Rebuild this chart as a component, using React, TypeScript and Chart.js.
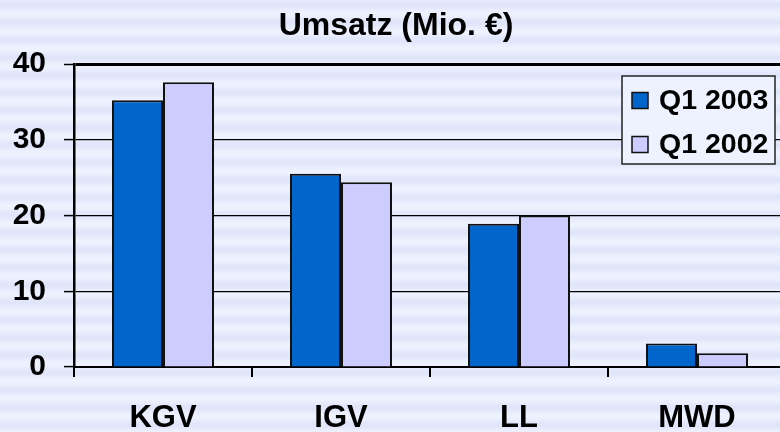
import React, { useEffect, useRef } from "react";
import { Chart, registerables } from "chart.js";

Chart.register(...registerables);

const categories = ["KGV", "IGV", "LL", "MWD"];
const seriesLabels = ["Q1 2003", "Q1 2002"];
const values2003 = [35.2, 25.5, 18.9, 3.1];
const values2002 = [37.6, 24.4, 20.0, 1.8];
const yTicks = [0, 10, 20, 30, 40];
const titleText = "Umsatz (Mio. €)";

const FONT = "'Liberation Sans', Arial, sans-serif";
const COLORS = ["#0066CC", "#CCCCFF"];

const stripes = {
  id: "stripes",
  beforeDraw(chart: any) {
    const { ctx, width, height } = chart;
    ctx.save();
    const light = [238, 242, 254];
    const dark = [225, 229, 250];
    for (let y = 0; y < height; y++) {
      const t = (Math.cos(((y + 0.5 - 5) / 17.5) * 2 * Math.PI) + 1) / 2;
      const c = light.map((l, i) => Math.round(l + (dark[i] - l) * t));
      ctx.fillStyle = `rgb(${c[0]},${c[1]},${c[2]})`;
      ctx.fillRect(0, y, width, 1);
    }
    ctx.restore();
  },
};

const boxLegend = {
  id: "boxLegend",
  afterDraw(chart: any) {
    const { ctx } = chart;
    ctx.save();
    ctx.fillStyle = "#EEF2FF";
    ctx.fillRect(622, 76, 153, 88);
    ctx.strokeStyle = "#222";
    ctx.lineWidth = 1.5;
    ctx.strokeRect(622, 76, 153, 88);
    chart.data.datasets.forEach((ds: any, i: number) => {
      const cy = 100.5 + i * 44;
      ctx.fillStyle = ds.backgroundColor;
      ctx.fillRect(632, cy - 8, 16, 16);
      ctx.strokeStyle = "#111";
      ctx.lineWidth = 1.5;
      ctx.strokeRect(632, cy - 8, 16, 16);
      ctx.fillStyle = "#000";
      ctx.font = `bold 28.5px ${FONT}`;
      ctx.textBaseline = "middle";
      ctx.textAlign = "left";
      ctx.fillText(ds.label, 659, cy + 1);
    });
    ctx.restore();
  },
};

export default function App() {
  const ref = useRef<HTMLCanvasElement>(null);
  useEffect(() => {
    if (!ref.current) return;
    const chart = new Chart(ref.current, {
      type: "bar",
      data: {
        labels: categories,
        datasets: [
          {
            label: seriesLabels[0],
            data: values2003,
            backgroundColor: COLORS[0],
            borderColor: "#111",
            borderWidth: 2,
            categoryPercentage: 0.573,
            barPercentage: 1,
          },
          {
            label: seriesLabels[1],
            data: values2002,
            backgroundColor: COLORS[1],
            borderColor: "#111",
            borderWidth: 2,
            categoryPercentage: 0.573,
            barPercentage: 1,
          },
        ],
      },
      options: {
        responsive: false,
        animation: false,
        devicePixelRatio: 1,
        layout: { padding: { left: 6, right: 14, top: 0, bottom: 0 } },
        plugins: {
          legend: { display: false },
          tooltip: { enabled: false },
          title: {
            display: true,
            text: titleText,
            color: "#000",
            font: { family: FONT, size: 32, weight: "bold" },
            padding: { top: 7, bottom: 18.6 },
          },
        },
        scales: {
          x: {
            grid: {
              display: true,
              drawOnChartArea: false,
              drawTicks: true,
              tickLength: 10,
              offset: true,
              color: "#000",
              lineWidth: 2,
            },
            border: { display: true, color: "#000", width: 2 },
            ticks: {
              color: "#000",
              font: { family: FONT, size: 31, weight: "bold" },
              padding: 23,
            },
            afterFit: (s: any) => {
              s.height = 65;
            },
          },
          y: {
            min: 0,
            max: 40,
            afterBuildTicks: (s: any) => {
              s.ticks = yTicks.map((v) => ({ value: v }));
            },
            grid: {
              color: "#000",
              lineWidth: (c: any) => (c.tick && c.tick.value === 40 ? 3 : 1.2),
              tickLength: 10,
              tickWidth: 1.5,
              tickColor: "#000",
            },
            border: { display: true, color: "#000", width: 2.5 },
            ticks: {
              color: "#000",
              font: { family: FONT, size: 30, weight: "bold" },
              padding: 18,
            },
            afterFit: (s: any) => {
              s.width = 68;
            },
          },
        },
      },
      plugins: [stripes, boxLegend],
    });
    return () => chart.destroy();
  }, []);
  return (
    <div
      style={{
        position: "fixed",
        left: 0,
        top: 0,
        width: 780,
        height: 432,
        overflow: "hidden",
      }}
    >
      <canvas ref={ref} width={800} height={432} style={{ display: "block" }} />
    </div>
  );
}
